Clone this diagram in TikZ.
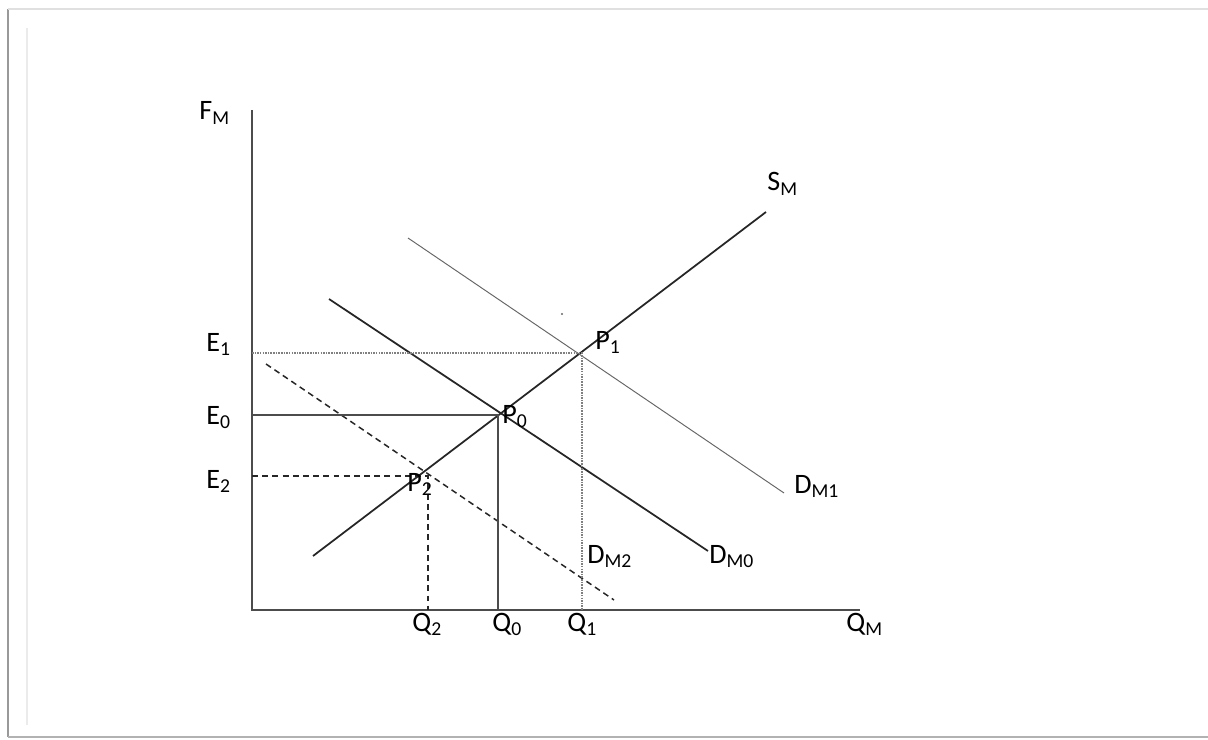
\documentclass[tikz,border=0pt]{standalone}
\usepackage{fontspec}
\setmainfont{Carlito}
\usetikzlibrary{positioning}

\begin{document}
\begin{tikzpicture}[x=0.02cm, y=-0.02cm,
  axis/.style     = {line width=1.2pt, draw=black!70},
  curve/.style    = {line width=1pt, draw=black!85},
  faint/.style    = {line width=0.55pt, draw=black!60},
  guide/.style    = {line width=0.8pt, draw=black!70},
  dotguide/.style = {line width=1.1pt, draw=black!50, dash pattern=on 0.9pt off 0.6pt},
  dashguide/.style= {line width=0.85pt, draw=black!85, dash pattern=on 3.4pt off 2.4pt},
  lab/.style      = {font=\fontsize{16}{19}\selectfont, inner sep=0pt, anchor=base west},
  frame/.style    = {line width=1.2pt}
]
\useasboundingbox (0,0) rectangle (1208,740);

%% ---- frame ---------------------------------------------------------
\draw[frame, black!40] (8,9) -- (8,737);
\draw[frame, black!12] (8,9) -- (1208,9);
\draw[frame, black!30] (8,737) -- (1208,737);
\draw[line width=0.8pt, black!8] (27,28) -- (27,725);

%% ---- axes ----------------------------------------------------------
\coordinate (O) at (252,610);
\coordinate (ytop) at (252,110);
\coordinate (xend) at (860,610);
\draw[axis] (ytop) -- (O) -- (xend);

\node[lab] (fm) at (199,120) {F\textsubscript{M}};
\node[lab] (qm) at (846,631) {Q\textsubscript{M}};

%% ---- curves --------------------------------------------------------
\coordinate (sA) at (313,556);  \coordinate (sB) at (766,212);
\coordinate (d1A) at (408,238); \coordinate (d1B) at (784,493);
\coordinate (d0A) at (329,299); \coordinate (d0B) at (708,551);
\coordinate (d2A) at (266,364); \coordinate (d2B) at (614,600);

\draw[curve] (sA) -- (sB);
\draw[faint] (d1A) -- (d1B);
\draw[curve] (d0A) -- (d0B);
\draw[dashguide] (d2A) -- (d2B);

\node[lab] (sm)  at (767,191) {S\textsubscript{M}};
\node[lab] (dm1) at (794,493) {D\textsubscript{M1}};
\node[lab] (dm0) at (709,563) {D\textsubscript{M0}};
\node[lab] (dm2) at (587,563) {D\textsubscript{M2}};

%% ---- equilibria ----------------------------------------------------
\coordinate (p1) at (582,353);
\coordinate (p0) at (498,415);
\coordinate (p2) at (428,476);

\draw[dotguide]  (O|-p1) -- (p1) -- (p1|-O);
\draw[guide]     (O|-p0) -- (p0) -- (p0|-O);
\draw[dashguide] (O|-p2) -- (p2) -- (p2|-O);

\node[lab] (e1) at (206,351) {E\textsubscript{1}};
\node[lab] (e0) at (206,424) {E\textsubscript{0}};
\node[lab] (e2) at (206,488) {E\textsubscript{2}};

\node[lab] (q2) at (412,631) {Q\textsubscript{2}};
\node[lab] (q0) at (492,631) {Q\textsubscript{0}};
\node[lab] (q1) at (567,631) {Q\textsubscript{1}};

\node[lab] (lp1) at (595,349) {P\textsubscript{1}};
\node[lab] (lp0) at (502,423) {P\textsubscript{0}};
\node[lab] (lp2) at (407,491) {P\textsubscript{2}};

\fill[black!60] (562,314) circle (0.6pt);
\end{tikzpicture}
\end{document}
